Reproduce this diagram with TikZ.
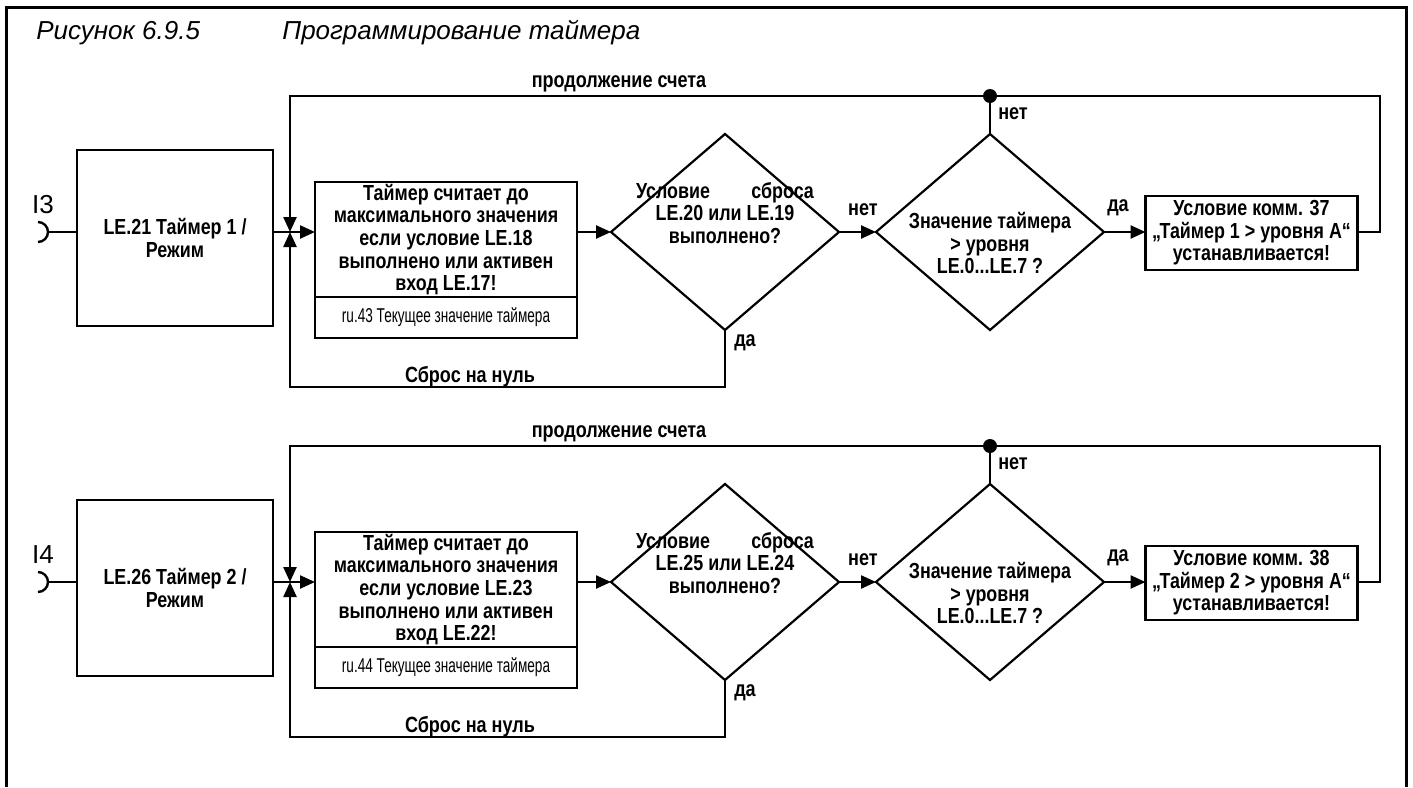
\documentclass[tikz,border=0pt]{standalone}
\usepackage{fontspec}
\setmainfont{Liberation Sans}
\newfontfamily\narrowfont{Liberation Sans}[FakeStretch=0.82]
\newfontfamily\tinyfont{Liberation Sans}[FakeStretch=0.68]
\usetikzlibrary{arrows.meta,positioning,shapes.geometric}

\begin{document}
\begin{tikzpicture}[
  x=0.5pt, y=-0.5pt,
  box/.style={draw, line width=1.2pt, align=center, inner sep=1pt, outer sep=0pt, font=\narrowfont\bfseries\fontsize{10.9}{11.3}\selectfont},
  valbox/.style={draw, line width=1.2pt, align=center, inner sep=1pt, outer sep=0pt, minimum width=131pt, minimum height=20.5pt, font=\tinyfont\fontsize{10}{10}\selectfont},
  cond/.style={draw, diamond, line width=1.1pt, minimum width=114pt, minimum height=98pt, inner sep=0pt, outer sep=0pt},
  txt/.style={align=center, inner sep=0pt, font=\narrowfont\bfseries\fontsize{10.9}{11.2}\selectfont},
  lbl/.style={inner sep=1pt, font=\narrowfont\bfseries\fontsize{11}{12}\selectfont},
  pin/.style={inner sep=0pt, font=\fontsize{13}{14}\selectfont},
  dot/.style={circle, fill, inner sep=0pt, minimum size=7pt},
  arr/.style={-{Triangle[length=7.5pt,width=6.5pt]}, line width=1.2pt},
  wire/.style={line width=1.2pt}
]
\useasboundingbox (0,0) rectangle (1413,787);
% frame and title
\draw[line width=1.5pt] (6,787) |- (1406,7) -- (1406,787);
\node[anchor=west, inner sep=0pt, font=\itshape\fontsize{13}{15}\selectfont] (fig) at (36,33) {Рисунок 6.9.5};
\node[anchor=west, inner sep=0pt, font=\itshape\fontsize{13}{15}\selectfont] (caption) at (282,33) {Программирование таймера};

% timer 1
\node[pin] (i3) at (43,205) {I3};
\coordinate (in3) at (48,232);
\node[box, minimum width=98pt, minimum height=88pt] (mode1) at (175,238) {LE.21 Таймер 1 /\\Режим};
\node[box, minimum width=131pt, minimum height=56.5pt] (count1) at (446,239.5) {Таймер считает до\\максимального значения\\если условие LE.18\\выполнено или активен\\вход LE.17!};
\node[valbox, below=0pt of count1] (value1) {ru.43 Текущее значение таймера};
\node[cond] (reset1) at (725,232) {};
\node[txt] (resettext1) at (725,213) {Условие\hspace{1.9em}сброса\\LE.20 или LE.19\\выполнено?};
\node[cond] (level1) at (990,232) {};
\node[txt] (leveltext1) at (990,243) {Значение таймера\\> уровня\\LE.0...LE.7 ?};
\node[box, minimum width=106pt, minimum height=37pt] (set1) at (1251.5,233) {Условие комм. 37\\„Таймер 1 > уровня A“\\устанавливается!};
\node[dot] (tap1) at (990,96) {};
\coordinate (join1) at (290,232);
\coordinate (back1) at (1380,96);
\coordinate (zero1) at (290,387);

\draw[wire] (in3) -- (mode1.west |- in3);
\draw[wire] (in3) ++(-10,-10) arc[start angle=-90, end angle=90, radius=10];
\draw[arr] (mode1.east |- join1) -- (count1.west |- join1);
\draw[arr] (count1.east |- reset1) -- (reset1.west);
\draw[arr] (reset1.east) -- (level1.west);
\draw[arr] (level1.east) -- (set1.west |- level1);
\draw[arr] (set1.east |- level1) -| (back1) -| (join1);
\draw[arr] (reset1.south) |- (zero1) -- (join1);
\draw[wire] (tap1) -- (level1.north);

\node[lbl] (cont1) at (619,84) {продолжение счета};
\node[lbl] (clear1) at (470,377) {Сброс на нуль};
\node[lbl] (yes1) at (745,343) {да};
\node[lbl] (no1) at (863,210) {нет};
\node[lbl] (yes2) at (1118,208) {да};
\node[lbl] (no2) at (1013,114) {нет};

% timer 2
\node[pin] (i4) at (43,555) {I4};
\coordinate (in4) at (48,582);
\node[box, minimum width=98pt, minimum height=88pt] (mode2) at (175,588) {LE.26 Таймер 2 /\\Режим};
\node[box, minimum width=131pt, minimum height=56.5pt] (count2) at (446,589.5) {Таймер считает до\\максимального значения\\если условие LE.23\\выполнено или активен\\вход LE.22!};
\node[valbox, below=0pt of count2] (value2) {ru.44 Текущее значение таймера};
\node[cond] (reset2) at (725,582) {};
\node[txt] (resettext2) at (725,563) {Условие\hspace{1.9em}сброса\\LE.25 или LE.24\\выполнено?};
\node[cond] (level2) at (990,582) {};
\node[txt] (leveltext2) at (990,593) {Значение таймера\\> уровня\\LE.0...LE.7 ?};
\node[box, minimum width=106pt, minimum height=37pt] (set2) at (1251.5,583) {Условие комм. 38\\„Таймер 2 > уровня A“\\устанавливается!};
\node[dot] (tap2) at (990,446) {};
\coordinate (join2) at (290,582);
\coordinate (back2) at (1380,446);
\coordinate (zero2) at (290,737);

\draw[wire] (in4) -- (mode2.west |- in4);
\draw[wire] (in4) ++(-10,-10) arc[start angle=-90, end angle=90, radius=10];
\draw[arr] (mode2.east |- join2) -- (count2.west |- join2);
\draw[arr] (count2.east |- reset2) -- (reset2.west);
\draw[arr] (reset2.east) -- (level2.west);
\draw[arr] (level2.east) -- (set2.west |- level2);
\draw[arr] (set2.east |- level2) -| (back2) -| (join2);
\draw[arr] (reset2.south) |- (zero2) -- (join2);
\draw[wire] (tap2) -- (level2.north);

\node[lbl] (cont2) at (619,434) {продолжение счета};
\node[lbl] (clear2) at (470,727) {Сброс на нуль};
\node[lbl] (yes3) at (745,693) {да};
\node[lbl] (no3) at (863,560) {нет};
\node[lbl] (yes4) at (1118,558) {да};
\node[lbl] (no4) at (1013,464) {нет};
\end{tikzpicture}
\end{document}
